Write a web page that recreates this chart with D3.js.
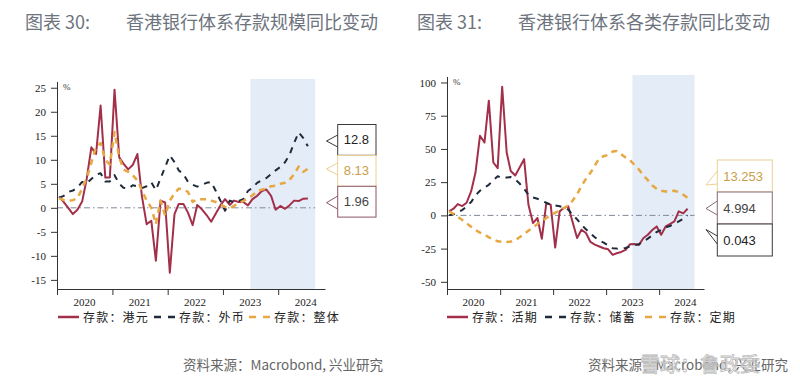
<!doctype html>
<html>
<head>
<meta charset="utf-8">
<title>香港银行体系存款同比变动</title>
<script src="https://d3js.org/d3.v7.min.js"></script>
<style>
  body { margin: 0; background: #fff; }
  svg { display: block; }
  .tick text { font-family: "Liberation Serif", "DejaVu Serif", serif; font-size: 11px; fill: #222; }
  .axis path, .axis line { stroke: #333; }
</style>
</head>
<body>
<svg width="800" height="389"></svg>
<script>
// monthly data, Jan 2020 - Jul 2024
var months = d3.timeMonth.range(new Date(2020, 0, 1), new Date(2024, 7, 1));
var years = [2020, 2021, 2022, 2023, 2024];

// chart 30: deposits by currency, yoy %
var hkd = [2.3, 1.2, 0.0, -1.3, -0.4, 1.3, 6.0, 12.6, 11.2, 21.3, 6.3, 6.3,
  24.6, 10.5, 9.2, 8.0, 8.9, 11.2, 2.4, -3.4, -2.7, -11.0, 1.5, 1.1,
  -13.5, -1.3, 0.8, 0.8, -1.0, -3.6, 0.6, -0.3, -1.5, -2.9, -1.2, 0.5,
  1.8, 0.6, 1.5, 1.2, 1.2, 0.5, 1.8, 2.5, 3.5, 3.8, 2.5, -0.4,
  0.4, -0.2, 0.5, 1.5, 1.4, 1.9, 1.96];
var fx = [2.1, 2.5, 3.3, 3.6, 4.2, 5.4, 5.1, 6.0, 6.9, 7.2, 5.5, 5.5,
  6.8, 5.0, 4.2, 4.0, 4.7, 4.5, 4.1, 4.5, 5.3, 3.7, 6.1, 8.5,
  10.9, 9.5, 7.8, 7.0, 5.4, 4.8, 4.4, 4.8, 5.2, 5.4, 3.5, 1.5,
  -0.6, 1.5, 1.2, 1.4, 1.8, 3.5, 4.2, 5.2, 5.8, 6.2, 7.0, 7.8,
  8.5, 9.5, 11.0, 13.5, 15.7, 14.5, 12.8];
var total = [2.0, 1.6, 1.4, 1.6, 2.0, 4.0, 6.1, 9.4, 12.7, 13.5, 10.0, 9.0,
  15.8, 10.5, 8.0, 7.5, 6.8, 5.7, 3.6, 1.5, 0.0, -3.4, 1.5, -1.6,
  1.5, 3.0, 4.0, 3.8, 3.3, 1.2, 1.8, 1.8, 1.8, 1.5, 1.2, 0.7,
  0.2, -0.1, 0.4, 1.0, 1.4, 2.0, 2.6, 3.5, 3.8, 4.0, 4.5, 4.6,
  5.0, 5.2, 5.8, 7.0, 8.6, 7.5, 8.13];

// chart 31: deposits by type, yoy %
var demand = [3.0, 5.0, 8.5, 7.0, 9.5, 18.0, 32.0, 59.9, 54.8, 86.3, 39.8, 35.5,
  96.8, 47.3, 33.4, 30.0, 36.0, 42.3, 8.0, -5.8, -2.0, -17.6, 9.3, 8.1,
  -24.2, 3.0, 5.5, 6.8, -5.0, -17.1, -10.8, -13.3, -20.0, -22.0, -23.4, -24.7,
  -25.5, -29.7, -28.5, -27.5, -26.0, -21.7, -21.5, -22.2, -17.0, -14.6, -11.0, -8.3,
  -14.6, -8.3, -6.5, -4.5, 3.0, 1.5, 4.994];
var savings = [0.0, 0.8, 2.5, 4.0, 6.8, 10.0, 15.0, 18.5, 21.0, 23.0, 26.5, 29.5,
  28.0, 28.5, 28.8, 27.0, 24.0, 20.0, 15.5, 13.5, 12.5, 11.0, 9.5, 8.0,
  7.5, 6.8, 6.0, 4.3, 0.5, -3.0, -7.0, -10.5, -13.5, -16.5, -19.0, -20.5,
  -22.5, -24.7, -25.0, -25.2, -24.5, -23.4, -22.5, -21.7, -19.5, -17.5, -15.0, -12.5,
  -11.0, -9.0, -8.0, -6.5, -4.5, -2.5, 0.043];
var timeDep = [3.0, 1.0, -1.0, -3.5, -6.0, -8.5, -11.0, -13.0, -14.5, -16.5, -18.0, -19.5,
  -20.0, -20.0, -19.8, -18.5, -16.5, -14.0, -11.5, -9.0, -6.5, -4.5, -2.0, 0.0,
  2.0, 3.5, 5.5, 7.5, 11.0, 16.0, 22.0, 27.5, 32.0, 37.5, 43.0, 44.5,
  45.5, 48.0, 48.5, 46.0, 43.5, 41.5, 38.0, 34.5, 30.0, 26.5, 22.5, 20.0,
  18.5, 18.0, 18.0, 18.5, 17.5, 15.5, 13.253];

var leftTicks = [25, 20, 15, 10, 5, 0, -5, -10, -15];
var rightTicks = [100, 75, 50, 25, 0, -25, -50];

var RED = "#a3304a", NAVY = "#1f2a3b", GOLD = "#e7a743";

var svg = d3.select("svg");
var cjk = '"Noto Sans CJK SC", "Noto Sans", sans-serif';

function title(x1, label, x2, text) {
  svg.append("text").attr("x", x1).attr("y", 29).text(label)
    .style("font-family", cjk).style("font-size", "18px").style("fill", "#6d747e");
  svg.append("text").attr("x", x2).attr("y", 29).text(text)
    .style("font-family", cjk).style("font-size", "18px").style("fill", "#6d747e");
}
title(25, "图表 30:", 126, "香港银行体系存款规模同比变动");
title(417, "图表 31:", 518, "香港银行体系各类存款同比变动");

function panel(o) {
  var x = d3.scaleTime()
    .domain([new Date(2020, 0, 1), new Date(2024, 10, 5)])
    .range([o.x0, o.x1]);
  var y = d3.scaleLinear().domain(o.yDomain).range([o.yBottom, o.yTop]);
  var g = svg.append("g");

  var s0 = new Date(2023, 6, 1), s1 = new Date(2024, 8, 1);
  g.append("rect")
    .attr("x", x(s0)).attr("width", x(s1) - x(s0))
    .attr("y", o.shadeTop).attr("height", o.yBottom - o.shadeTop)
    .attr("fill", "#e4ecf7");

  g.append("line")
    .attr("x1", o.x0).attr("x2", x(s1))
    .attr("y1", y(0)).attr("y2", y(0))
    .attr("stroke", "#7f8896").attr("stroke-width", 1)
    .attr("stroke-dasharray", "6,3,1.5,3");

  g.append("g").attr("class", "axis")
    .attr("transform", "translate(" + o.x0 + ",0)")
    .call(d3.axisLeft(y).tickValues(o.ticks).tickSize(6).tickSizeOuter(0)
      .tickPadding(5).tickFormat(function(d) { return String(d); }));

  var yearStarts = years.map(function(yr) { return new Date(yr, 0, 1); });
  g.append("g").attr("class", "axis")
    .attr("transform", "translate(0," + o.yBottom + ")")
    .call(d3.axisBottom(x).tickValues(yearStarts).tickSize(6).tickSizeOuter(0).tickFormat(""));

  g.selectAll(".yr").data(years).enter().append("text")
    .attr("x", function(d) { return x(new Date(d, 6, 1)); })
    .attr("y", o.yBottom + 16.5)
    .attr("text-anchor", "middle")
    .style("font-family", '"Liberation Serif", serif').style("font-size", "11px").style("fill", "#222")
    .text(function(d) { return d; });

  g.append("text").attr("x", o.x0 + 6).attr("y", o.yTop + 8).text("%")
    .style("font-family", '"Liberation Serif", serif').style("font-size", "9px").style("fill", "#333");

  var line = d3.line()
    .x(function(d, i) { return x(d3.timeDay.offset(months[i], 14)); })
    .y(function(d) { return y(d); });

  o.series.forEach(function(s) {
    g.append("path").datum(s.values)
      .attr("d", line).attr("fill", "none")
      .attr("stroke", s.color).attr("stroke-width", s.width)
      .attr("stroke-dasharray", s.dash || null)
      .attr("stroke-linejoin", "round");
  });

  // legend
  o.series.forEach(function(s, i) {
    var lx = o.legendX[i], ly = o.yBottom + 28;
    g.append("line").attr("x1", lx).attr("x2", lx + 21).attr("y1", ly).attr("y2", ly)
      .attr("stroke", s.color).attr("stroke-width", 2.5)
      .attr("stroke-dasharray", s.dash ? "7,7" : null);
    g.append("text").attr("x", lx + 25).attr("y", ly + 4.5).text(s.name)
      .style("font-family", cjk).style("font-size", "12px").style("fill", "#222")
      .style("letter-spacing", "1.2px");
  });

  // end-value callouts
  o.callouts.forEach(function(c) {
    var v = o.series[c.series].values;
    var last = v[v.length - 1];
    g.append("rect").attr("x", o.boxX).attr("y", c.top)
      .attr("width", o.boxW).attr("height", o.boxH)
      .attr("fill", "#fff").attr("stroke", c.border).attr("stroke-width", 1);
    g.append("path")
      .attr("d", "M" + o.boxX + "," + c.e1 + "L" + c.tipX + "," + c.tipY + "L" + o.boxX + "," + c.e2)
      .attr("fill", "none").attr("stroke", c.border).attr("stroke-width", 1);
    g.append("text").attr("x", o.boxX + 6).attr("y", c.top + o.boxH / 2 + 4.5)
      .text(String(last))
      .style("font-family", '"Liberation Sans", "Open Sans", sans-serif').style("font-size", "13px")
      .style("fill", c.text);
  });
}

panel({
  x0: 57, x1: 325, yTop: 81.5, yBottom: 289, shadeTop: 79,
  yDomain: [-16.9, 26.3], ticks: leftTicks,
  legendX: [58, 154, 249],
  series: [
    { name: "存款：港元", values: hkd, color: RED, width: 2 },
    { name: "存款：外币", values: fx, color: NAVY, width: 2, dash: "6,6" },
    { name: "存款：整体", values: total, color: GOLD, width: 2.5, dash: "6,5" }
  ],
  boxX: 337.7, boxW: 38.3, boxH: 30.8,
  callouts: [
    { series: 1, top: 124.5, e1: 135, e2: 147, tipX: 326.5, tipY: 141, border: "#3a3a3a", text: "#222" },
    { series: 2, top: 155.5, e1: 163, e2: 175, tipX: 326.5, tipY: 169, border: "#ecd093", text: "#c8a04a" },
    { series: 0, top: 186.3, e1: 196, e2: 209, tipX: 326.5, tipY: 202.7, border: "#8c5565", text: "#444" }
  ]
});

panel({
  x0: 447, x1: 704, yTop: 76.5, yBottom: 289, shadeTop: 75,
  yDomain: [-55.4, 104.5], ticks: rightTicks,
  legendX: [447, 545, 645],
  series: [
    { name: "存款：活期", values: demand, color: RED, width: 2 },
    { name: "存款：储蓄", values: savings, color: NAVY, width: 2, dash: "6,6" },
    { name: "存款：定期", values: timeDep, color: GOLD, width: 2.5, dash: "6,5" }
  ],
  boxX: 717.3, boxW: 55, boxH: 32,
  callouts: [
    { series: 2, top: 160, e1: 171, e2: 184, tipX: 706, tipY: 185, border: "#ecd093", text: "#c8a04a" },
    { series: 0, top: 192, e1: 201, e2: 215, tipX: 706, tipY: 208.5, border: "#8a6a74", text: "#444" },
    { series: 1, top: 224, e1: 236, e2: 244, tipX: 706, tipY: 229.5, border: "#3a3a3a", text: "#222" }
  ]
});

// source notes
[183, 588].forEach(function(sx) {
  svg.append("text").attr("x", sx).attr("y", 370).text("资料来源：Macrobond, 兴业研究")
    .style("font-family", cjk).style("font-size", "13.5px").style("fill", "#666");
});
svg.append("text").attr("x", 640).attr("y", 372).text("雪球：鲁政委")
  .style("font-family", cjk).style("font-size", "20px").style("fill", "#fff")
  .style("fill-opacity", 0.6).style("stroke", "#bbb").style("stroke-width", 0.8);
</script>
</body>
</html>
